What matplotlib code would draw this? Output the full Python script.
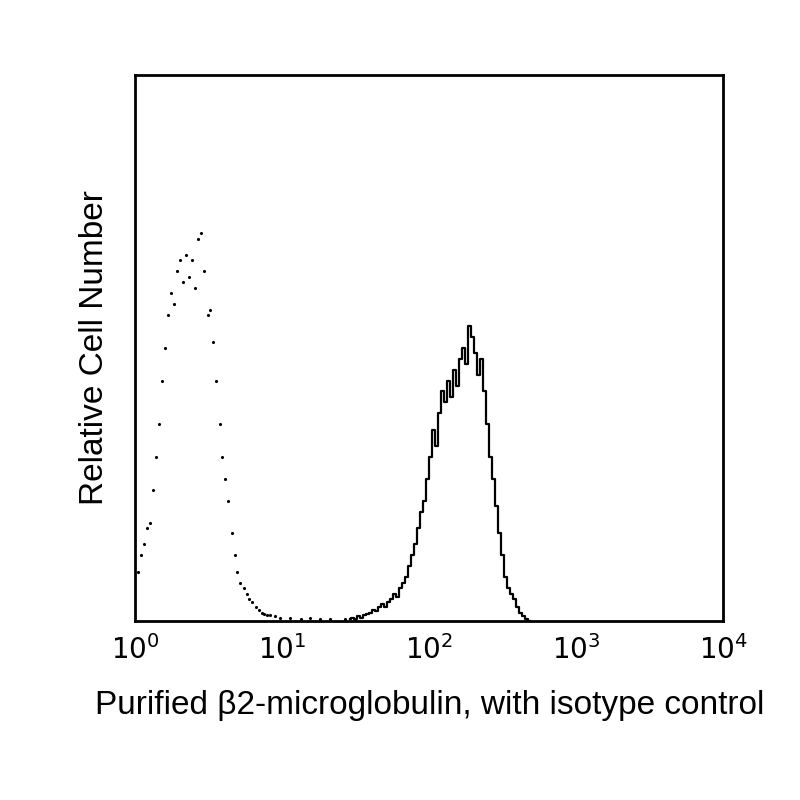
import numpy as np
import matplotlib
matplotlib.use("Agg")
import matplotlib.pyplot as plt

plt.rcParams['font.family'] = ['Liberation Sans', 'DejaVu Sans']

# isotype control (dotted) histogram: channel (256 per decade) and relative counts
iso_channels = [5, 10, 15, 21, 26, 31, 36, 42, 47, 52, 57, 63, 68, 73, 78, 84, 89, 94, 99, 105,
                110, 115, 120, 126, 131, 136, 141, 147, 152, 157, 162, 168, 173, 178, 183, 189,
                194, 199, 204, 210, 215, 220, 225, 230, 235, 244, 253, 270, 288, 305, 322, 340, 366, 383]
iso_counts = [9, 12, 14, 17, 18, 24, 30, 36, 44, 50, 56, 60, 58, 64, 66, 62, 67, 63, 66, 61,
              70, 71, 64, 56, 57, 51, 44, 36, 30, 26, 22, 16, 12, 9, 7, 6,
              5, 4, 3.5, 2.5, 2, 1.5, 1.2, 1, 1, 0.8, 0.6, 0.6, 0.4, 0.5, 0.4, 0.3, 0.3, 0.2]

# beta2-microglobulin stained (solid) histogram
b2m_channels = [374, 379, 384, 389, 395, 400, 405, 410, 415, 421, 426, 431, 436, 442, 447, 452,
                457, 462, 468, 473, 478, 483, 489, 494, 499, 504, 509, 515, 520, 525, 530, 536,
                541, 546, 551, 556, 562, 567, 572, 577, 583, 588, 593, 598, 603, 609, 614, 619,
                624, 630, 635, 640, 645, 650, 656, 661, 666, 671, 676, 682, 687]
b2m_counts = [0.3, 0.5, 0.4, 0.8, 0.6, 1, 1.2, 1.5, 2, 1.8, 2.5, 3, 2.6, 3.5, 4, 5,
              4.4, 6, 7, 8, 10, 12, 14, 17, 20, 22, 26, 30, 35, 32, 38, 42,
              40, 44, 41, 46, 43, 48, 50, 47, 54, 52, 49, 45, 48, 42, 36, 30,
              26, 21, 16, 12, 8, 6, 5, 4, 2.5, 1.5, 0.8, 0.3, 0]

fig = plt.figure(figsize=(8, 8), dpi=100)
ax = fig.add_axes([0.169, 0.224, 0.735, 0.6825])

iso_x = 10 ** (np.array(iso_channels) / 256.0)
b2m_x = 10 ** (np.array(b2m_channels) / 256.0)

ax.plot(iso_x, iso_counts, linestyle='none', marker='.', markersize=2.5, color='black')
ax.step(b2m_x, b2m_counts, where='mid', color='black', lw=1.6)

ax.set_xscale('log')
ax.set_xlim(1, 1e4)
ax.set_ylim(0, 100)
ax.set_yticks([])
ax.set_xticks([1, 10, 100, 1000, 10000])
ax.set_xticklabels([r'$10^{0}$', r'$10^{1}$', r'$10^{2}$', r'$10^{3}$', r'$10^{4}$'])
ax.minorticks_off()
ax.tick_params(axis='x', length=0, labelsize=20, pad=10)
for s in ax.spines.values():
    s.set_linewidth(2)

ax.set_ylabel('Relative Cell Number', fontsize=24, labelpad=18)
ax.set_xlabel('Purified \u03b22-microglobulin, with isotype control', fontsize=24, labelpad=18)

fig.savefig('out.png', dpi=100)
